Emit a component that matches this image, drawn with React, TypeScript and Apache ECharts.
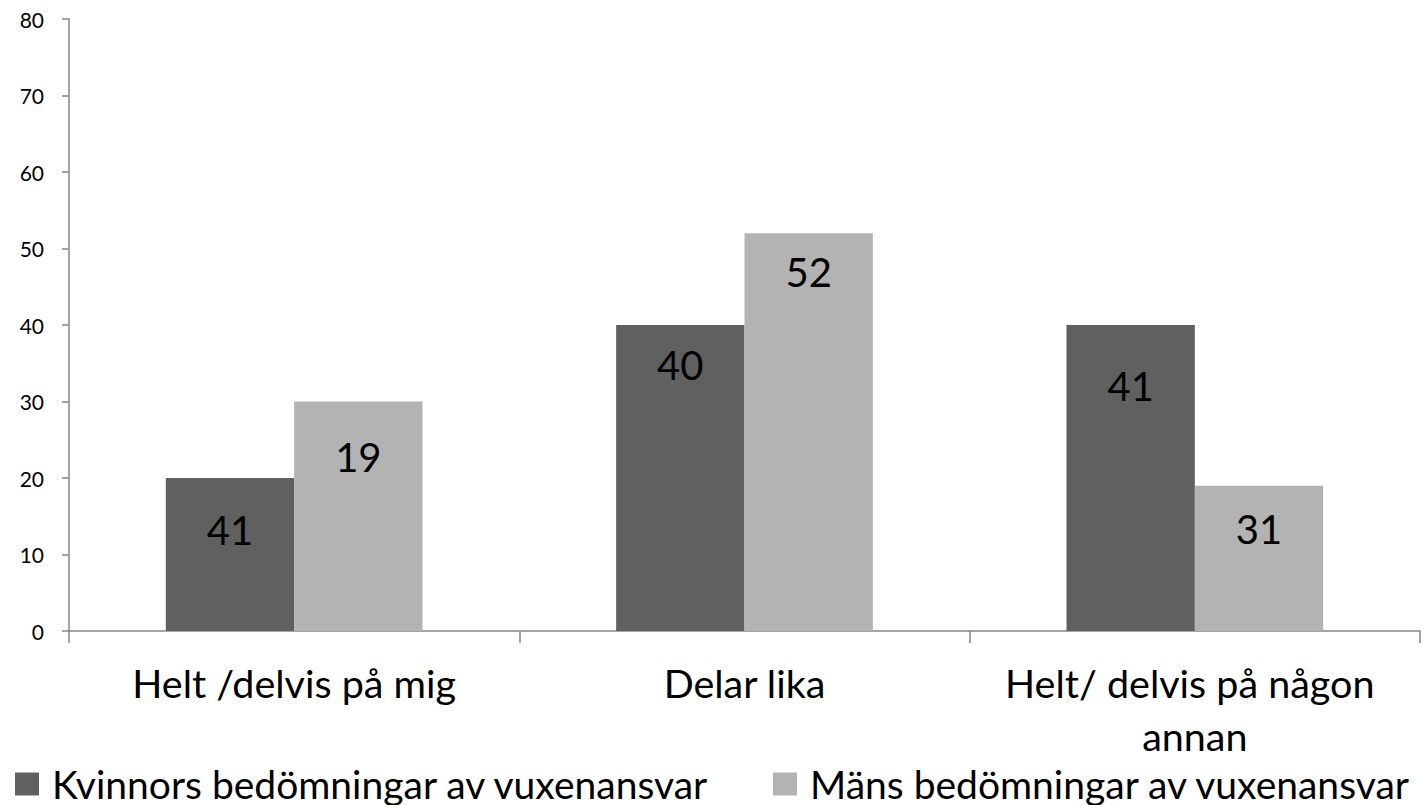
import React, { useEffect, useRef } from "react";
import * as echarts from "echarts";

const categories = ["Helt /delvis på mig", "Delar lika", "Helt/ delvis på någon annan"];
const seriesNames = ["Kvinnors bedömningar av vuxenansvar", "Mäns bedömningar av vuxenansvar"];
const kvinnorValues = [20, 40, 40];
const mansValues = [30, 52, 19];
const kvinnorLabels = ["41", "40", "41"];
const mansLabels = ["19", "52", "31"];
const yTicks = { min: 0, max: 80, interval: 10 };

// label placement below bar top (px), presentation only
const kvinnorLabelDy = [52, 40, 61];
const mansLabelDy = [55, 39, 43];

const FONT = "Lato";

export default function App() {
  const ref = useRef<HTMLDivElement>(null);
  useEffect(() => {
    if (!ref.current) return;
    const chart = echarts.init(ref.current, undefined, { renderer: "svg" });
    const mk = (vals: number[], labels: string[], dys: number[]) =>
      vals.map((v, i) => ({
        value: v,
        label: {
          show: true,
          position: "insideTop",
          distance: 0,
          verticalAlign: "middle",
          offset: [0, dys[i]],
          formatter: () => labels[i],
          color: "#000",
          fontFamily: FONT,
          fontSize: 40,
        },
      }));
    const legendBase = {
      top: 756,
      icon: "rect",
      itemWidth: 24,
      itemHeight: 23,
      textStyle: { fontFamily: FONT, fontSize: 39, lineHeight: 46, color: "#000", padding: [0, 0, 0, 8] },
    };
    chart.setOption({
      animation: false,
      grid: { left: 69, right: 2, top: 19, bottom: 174, containLabel: false },
      legend: [
        { ...legendBase, data: [seriesNames[0]], left: 10 },
        { ...legendBase, data: [seriesNames[1]], left: 768 },
      ],
      xAxis: {
        type: "category",
        data: categories,
        axisLine: { lineStyle: { color: "#868686", width: 1.5 } },
        axisTick: { show: true, length: 12, lineStyle: { color: "#868686", width: 1.5 } },
        axisLabel: {
          color: "#000",
          fontFamily: FONT,
          fontSize: 39.5,
          margin: 25,
          lineHeight: 53,
          width: 430,
          overflow: "break",
          interval: 0,
        },
      },
      yAxis: {
        type: "value",
        min: yTicks.min,
        max: yTicks.max,
        interval: yTicks.interval,
        splitLine: { show: false },
        axisLine: { show: true, lineStyle: { color: "#868686", width: 1.5 } },
        axisTick: { show: true, length: 7, lineStyle: { color: "#868686", width: 1.5 } },
        axisLabel: { color: "#000", fontFamily: FONT, fontSize: 21, margin: 25 },
      },
      series: [
        {
          name: seriesNames[0],
          type: "bar",
          data: mk(kvinnorValues, kvinnorLabels, kvinnorLabelDy),
          itemStyle: { color: "#606060" },
          barGap: "0%",
          barCategoryGap: "43%",
        },
        {
          name: seriesNames[1],
          type: "bar",
          data: mk(mansValues, mansLabels, mansLabelDy),
          itemStyle: { color: "#b3b3b3" },
          barGap: "0%",
          barCategoryGap: "43%",
        },
      ],
    });
    return () => chart.dispose();
  }, []);
  return <div ref={ref} style={{ width: 1422, height: 805, position: "absolute", left: 0, top: 0 }} />;
}
